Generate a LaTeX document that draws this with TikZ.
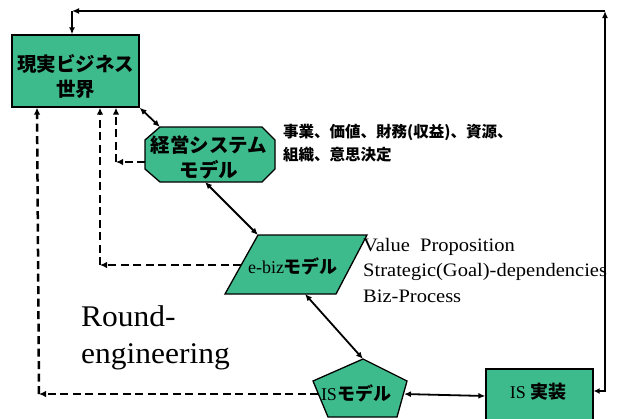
\documentclass[tikz,border=0pt]{standalone}
\usepackage{fontspec}
\setmainfont{Liberation Serif}
\newfontfamily\jp{Noto Sans CJK JP}
\usetikzlibrary{arrows.meta}
\definecolor{gr}{RGB}{62,187,140}
\begin{document}
\begin{tikzpicture}[x=1pt,y=-1pt,
  shp/.style={fill=gr,draw=black,line width=1.3pt},
  con/.style={line width=1.8pt,{Latex[length=7pt,width=6pt]}-{Latex[length=7pt,width=6pt]}},
  oneway/.style={line width=1.8pt,-{Latex[length=7pt,width=6pt]}},
  dsh/.style={line width=2.5pt,dash pattern=on 8pt off 4.5pt,-{Latex[length=7pt,width=6.5pt]}},
  jpt/.style={font=\jp\bfseries\fontsize{19.5}{25}\selectfont,align=center,inner sep=0pt},
  side/.style={font=\jp\bfseries\fontsize{15.5}{23}\selectfont,align=left,inner sep=0pt,anchor=north west},
  ser/.style={font=\fontsize{19}{25.5}\selectfont,align=left,inner sep=0pt,anchor=north west}]
\useasboundingbox (0,0) rectangle (623,418);
\clip (0,0) rectangle (623,418);
\fill[white] (0,0) rectangle (623,418);

% real business world
\node[shp,minimum width=127pt,minimum height=72pt,inner sep=0pt] (real) at (75.5,71) {};
\node[jpt] (realt) at (75.5,76) {現実ビジネス\\世界};

% management system model (octagon)
\draw[shp] (160,127) -- (262,127) -- (275,140) -- (275,169) -- (262,182) -- (160,182) -- (145,169) -- (145,140) -- cycle;
\node[jpt] (mgmt) at (209,157) {経営システム\\モデル};
\coordinate (mgmtTL) at (160,127);
\coordinate (mgmtB) at (205,182);
\coordinate (mgmtL) at (145,162);

% e-biz model (parallelogram)
\draw[shp] (258,235) -- (367,235) -- (336,294) -- (225,294) -- cycle;
\node[inner sep=0pt] (ebiz) at (293,266) {\fontsize{18}{20}\selectfont e-biz{\jp\bfseries モデル}};
\coordinate (ebizTL) at (258,235);
\coordinate (ebizB) at (305,294);
\coordinate (ebizL) at (241,265);

% IS model (pentagon)
\draw[shp] (363,359) -- (407,381) -- (397,417) -- (328,417) -- (313,381) -- cycle;
\node[inner sep=0pt] (ism) at (356,393) {\fontsize{18}{20}\selectfont IS{\jp\bfseries モデル}};
\coordinate (ismT) at (363,359);
\coordinate (ismR) at (404,394);
\coordinate (ismL) at (318,394);

% IS implementation
\node[shp,minimum width=107pt,minimum height=60pt,inner sep=0pt] (isimpl) at (539.5,399) {};
\node[inner sep=0pt] (isimplt) at (538,392) {\fontsize{18}{20}\selectfont IS {\jp\bfseries 実装}};

% side texts
\node[side] (mtext) at (283,124) {事業、価値、財務(収益)、資源、\\組織、意思決定};
\node[ser] (etext) at (363,238) {\scalebox{1.08}[1]{Value\ \ Proposition}\\\scalebox{1.08}[1]{Strategic(Goal)-dependencies}\\\scalebox{1.08}[1]{Biz-Process}};
\node[font=\fontsize{30}{37}\selectfont,align=left,inner sep=0pt,anchor=north west] (round) at (81,305) {\scalebox{1.05}[1]{Round-}\\\scalebox{1.05}[1]{engineering}};

% solid connectors
\draw[con] (real.south east) -- (mgmtTL);
\draw[con] (mgmtB) -- (ebizTL);
\draw[con] (ebizB) -- (ismT);
\draw[con] (ismR) -- ([yshift=3pt]isimpl.west);

% feedback loop
\coordinate (tr) at (605,11);
\coordinate (tl) at (72,11);
\draw[line width=1.8pt,{Latex[length=6pt,width=6pt]}-{Latex[length=7pt,width=6pt]}] ([yshift=8pt]isimpl.east) -| (tr);
\draw[oneway] (tr) -- (tl);
\draw[oneway] (tl) -- ([xshift=-3.5pt]real.north);

% dashed return paths
\coordinate (d1) at (116,162);
\coordinate (d2) at (100,265);
\coordinate (d3) at (39,394);
\draw[dsh] (mgmtL) -- (d1);
\draw[dsh] (d1) -- (d1 |- real.south);
\draw[dsh] (ebizL) -- (d2);
\draw[dsh] (d2) -- (d2 |- real.south);
\draw[dsh] (ismL) -- (d3);
\draw[dsh] (d3) -- ([xshift=-38.5pt]real.south);
\end{tikzpicture}
\end{document}
